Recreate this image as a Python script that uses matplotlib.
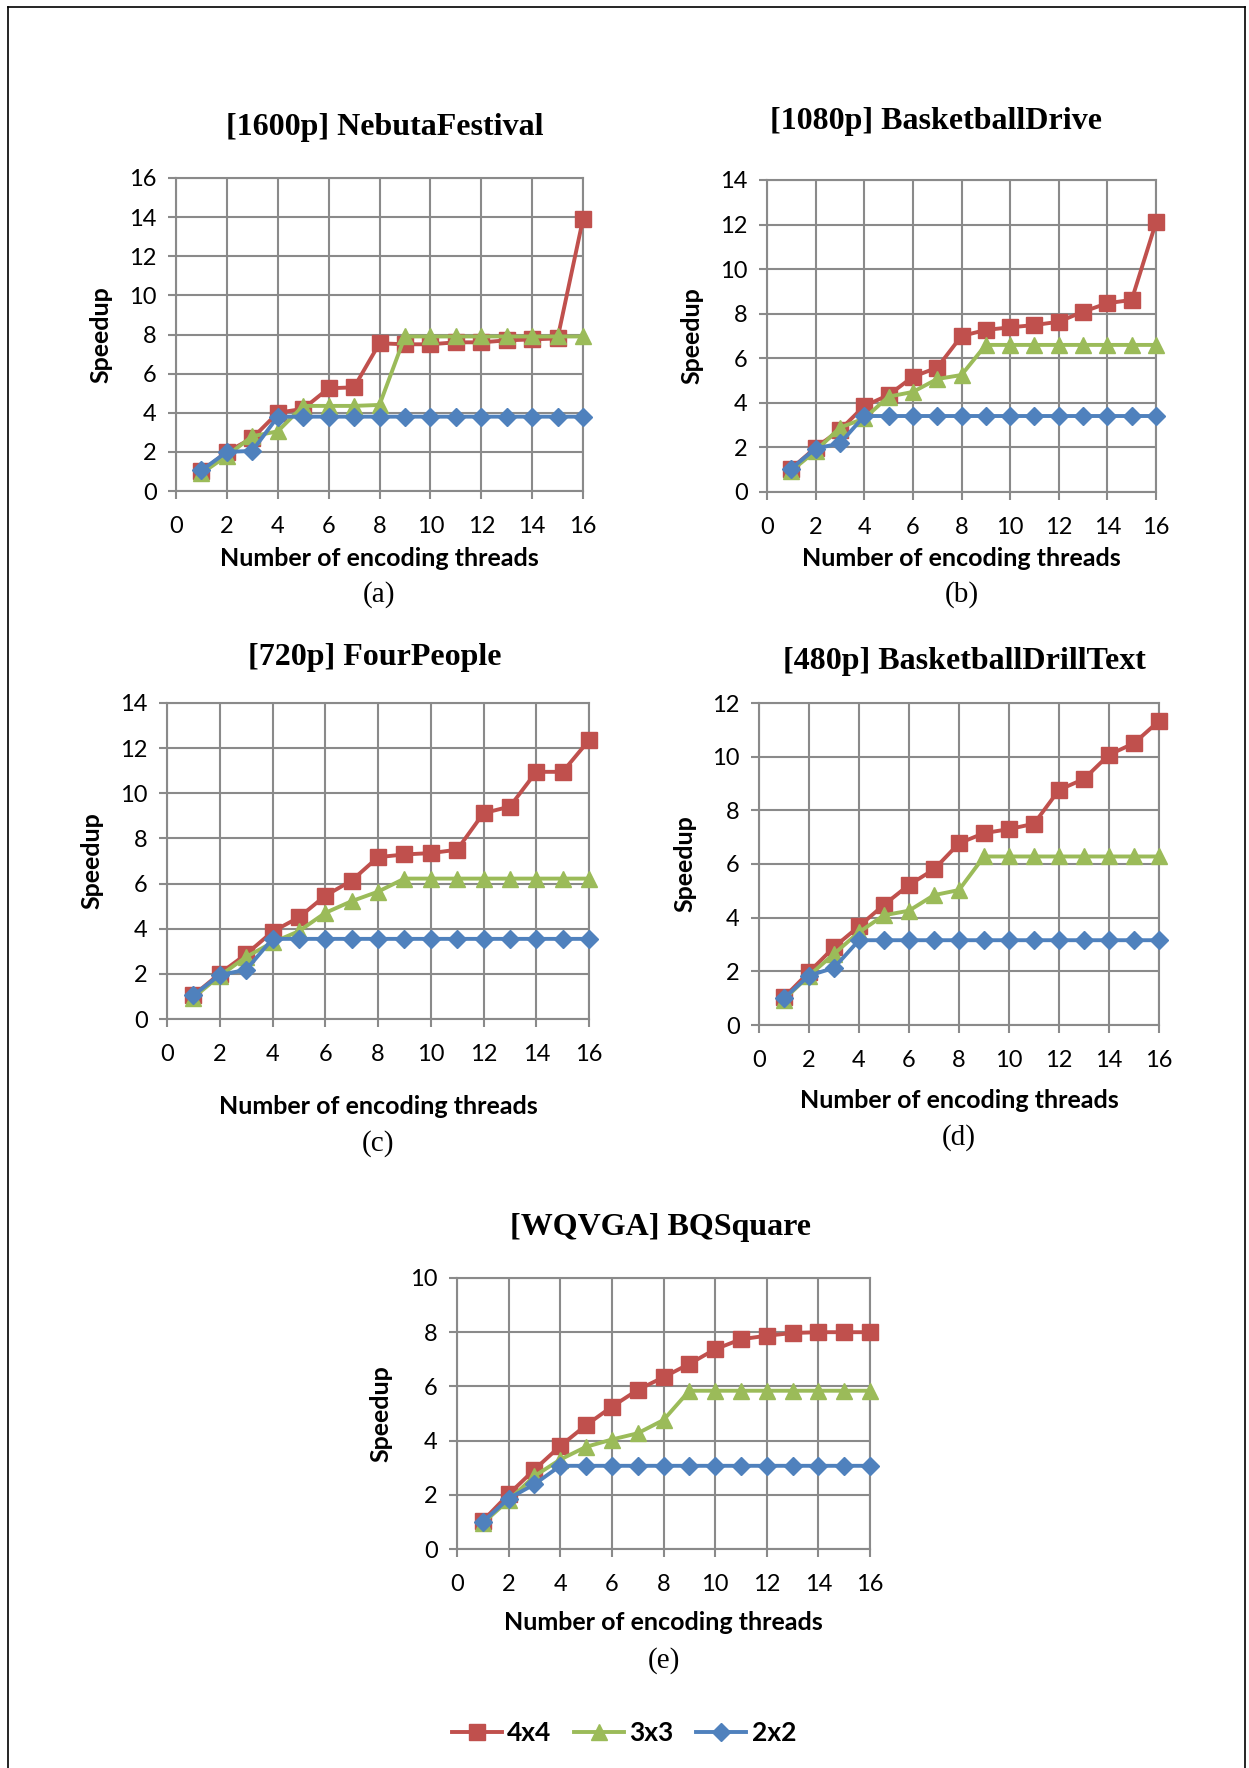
import matplotlib
matplotlib.use("Agg")
import matplotlib.pyplot as plt
from matplotlib.lines import Line2D

W, H = 1249, 1768
DPI = 100

threads = list(range(1, 17))
series_names = ["4x4", "3x3", "2x2"]

# (a) [1600p] NebutaFestival
a_4x4 = [1.0, 2.0, 2.7, 4.0, 4.2, 5.25, 5.3, 7.55, 7.5, 7.5, 7.6, 7.6, 7.7, 7.75, 7.8, 13.9]
a_3x3 = [0.9, 1.8, 2.8, 3.05, 4.35, 4.35, 4.35, 4.4, 7.9, 7.9, 7.9, 7.9, 7.9, 7.9, 7.9, 7.9]
a_2x2 = [1.05, 2.0, 2.05, 3.8, 3.8, 3.8, 3.8, 3.8, 3.8, 3.8, 3.8, 3.8, 3.8, 3.8, 3.8, 3.8]

# (b) [1080p] BasketballDrive
b_4x4 = [1.05, 1.99, 2.78, 3.86, 4.35, 5.17, 5.58, 7.0, 7.27, 7.39, 7.49, 7.64, 8.09, 8.47, 8.62, 12.1]
b_3x3 = [0.95, 1.84, 2.89, 3.3, 4.28, 4.49, 5.07, 5.25, 6.6, 6.6, 6.6, 6.6, 6.6, 6.6, 6.6, 6.6]
b_2x2 = [1.05, 1.95, 2.18, 3.41, 3.41, 3.41, 3.41, 3.41, 3.41, 3.41, 3.41, 3.41, 3.41, 3.41, 3.41, 3.41]

# (c) [720p] FourPeople
c_4x4 = [1.05, 2.01, 2.87, 3.87, 4.5, 5.46, 6.13, 7.17, 7.29, 7.35, 7.5, 9.12, 9.41, 10.95, 10.95, 12.35]
c_3x3 = [0.95, 1.91, 2.75, 3.39, 3.89, 4.7, 5.22, 5.64, 6.22, 6.22, 6.22, 6.22, 6.22, 6.22, 6.22, 6.22]
c_2x2 = [1.05, 1.95, 2.18, 3.55, 3.55, 3.55, 3.55, 3.55, 3.55, 3.55, 3.55, 3.55, 3.55, 3.55, 3.55, 3.55]

# (d) [480p] BasketballDrillText
d_4x4 = [1.03, 1.97, 2.9, 3.68, 4.48, 5.22, 5.8, 6.77, 7.15, 7.3, 7.5, 8.76, 9.17, 10.07, 10.5, 11.33]
d_3x3 = [0.95, 1.84, 2.65, 3.46, 4.09, 4.26, 4.84, 5.03, 6.28, 6.28, 6.28, 6.28, 6.28, 6.28, 6.28, 6.28]
d_2x2 = [1.0, 1.84, 2.13, 3.16, 3.16, 3.16, 3.16, 3.16, 3.16, 3.16, 3.16, 3.16, 3.16, 3.16, 3.16, 3.16]

# (e) [WQVGA] BQSquare
e_4x4 = [1.04, 2.02, 2.93, 3.8, 4.57, 5.25, 5.87, 6.34, 6.83, 7.37, 7.74, 7.87, 7.97, 8.0, 8.0, 8.0]
e_3x3 = [0.95, 1.8, 2.69, 3.3, 3.77, 4.04, 4.27, 4.76, 5.84, 5.84, 5.84, 5.84, 5.84, 5.84, 5.84, 5.84]
e_2x2 = [1.0, 1.86, 2.39, 3.07, 3.07, 3.07, 3.07, 3.07, 3.07, 3.07, 3.07, 3.07, 3.07, 3.07, 3.07, 3.07]

titles = ["[1600p] NebutaFestival", "[1080p] BasketballDrive", "[720p] FourPeople",
          "[480p] BasketballDrillText", "[WQVGA] BQSquare"]
captions = ["(a)", "(b)", "(c)", "(d)", "(e)"]
ymaxes = [16, 14, 14, 12, 10]
xticks = [0, 2, 4, 6, 8, 10, 12, 14, 16]
xlabel_text = "Number of encoding threads"
ylabel_text = "Speedup"

panel_data = [
    (a_4x4, a_3x3, a_2x2),
    (b_4x4, b_3x3, b_2x2),
    (c_4x4, c_3x3, c_2x2),
    (d_4x4, d_3x3, d_2x2),
    (e_4x4, e_3x3, e_2x2),
]

# layout in pixels: (x_left, x_right, y_top, y_bottom), title x, title y, xlabel y, caption y, ylabel x
layout = [
    (176, 583, 178, 491, 385, 127, 558, 595, 101),
    (767, 1156, 180, 492, 936, 121, 558, 595, 692),
    (167, 589, 703, 1019, 375, 658, 1106, 1144, 92),
    (759, 1159, 703, 1025, 964, 661, 1100, 1138, 685),
    (457, 870, 1278, 1549, 660, 1227, 1623, 1661, 381),
]

colors = ["#C0504D", "#9BBB59", "#4F81BD"]
markers = ["s", "^", "D"]
msizes = [11, 11.5, 9.5]
LW = 2.8
grid_color = "#8A8A8A"

SANS = ["Lato", "DejaVu Sans"]
SERIF = ["Liberation Serif", "DejaVu Serif"]

fig = plt.figure(figsize=(W / DPI, H / DPI), dpi=DPI)
fig.patch.set_facecolor("white")

def fx(px):
    return px / W

def fy(py):
    return 1 - py / H

for i in range(5):
    xl, xr, yt, yb, tx, ty, xly, cy, ylx = layout[i]
    ax = fig.add_axes([fx(xl), fy(yb), fx(xr) - fx(xl), (yb - yt) / H])
    ax.set_xlim(0, 16)
    ax.set_ylim(0, ymaxes[i])
    ax.set_xticks(xticks)
    ax.set_yticks(list(range(0, ymaxes[i] + 1, 2)))
    ax.grid(True, color=grid_color, linewidth=1.5)
    ax.set_axisbelow(True)
    for s in ax.spines.values():
        s.set_color(grid_color)
        s.set_linewidth(1.5)
    ax.tick_params(axis="both", direction="out", length=6, width=1.5, color=grid_color,
                   labelsize=17, labelcolor="black")
    ax.tick_params(axis="x", pad=12)
    ax.tick_params(axis="y", pad=8)
    for lab in ax.get_xticklabels() + ax.get_yticklabels():
        lab.set_family(SANS)
    for k in range(3):
        ax.plot(threads, panel_data[i][k], color=colors[k], linewidth=LW,
                marker=markers[k], markersize=msizes[k], markeredgecolor=colors[k],
                markerfacecolor=colors[k], clip_on=False, zorder=3 + k)
    cx = (xl + xr) / 2
    fig.text(fx(tx), fy(ty), titles[i], ha="center", va="center", family=SERIF,
             fontweight="bold", fontsize=23)
    fig.text(fx(cx), fy(xly), xlabel_text, ha="center", va="center", family=SANS,
             fontweight="bold", fontsize=18)
    fig.text(fx(cx), fy(cy), captions[i], ha="center", va="center", family=SERIF,
             fontsize=21)
    fig.text(fx(ylx), fy((yt + yb) / 2), ylabel_text, ha="center", va="center",
             rotation=90, family=SANS, fontweight="bold", fontsize=18)

handles = [Line2D([0], [0], color=colors[k], linewidth=LW, marker=markers[k],
                  markersize=msizes[k], markerfacecolor=colors[k],
                  markeredgecolor=colors[k]) for k in range(3)]
leg = fig.legend(handles, series_names, loc="center", bbox_to_anchor=(fx(624), fy(1733)),
                 ncol=3, frameon=False, handlelength=1.9, columnspacing=0.85,
                 handletextpad=0.2, prop={"family": SANS, "weight": "bold", "size": 19})

# page frame (left, top, right)
fig.add_artist(Line2D([fx(8), fx(8)], [fy(1768), fy(7)], color="black", linewidth=1.2))
fig.add_artist(Line2D([fx(8), fx(1245)], [fy(7), fy(7)], color="black", linewidth=1.2))
fig.add_artist(Line2D([fx(1245), fx(1245)], [fy(7), fy(1768)], color="black", linewidth=1.2))

fig.savefig("out.png", dpi=DPI, facecolor="white")
